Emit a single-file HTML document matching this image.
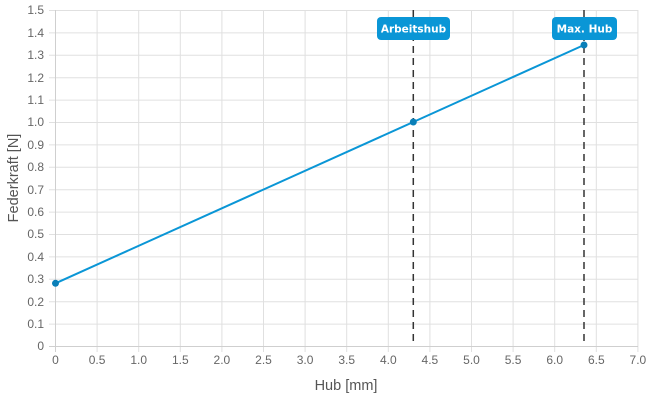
<!DOCTYPE html>
<html><head><style>body{margin:0;background:#fff}svg{display:block}</style></head><body>
<svg width="650" height="400" xmlns="http://www.w3.org/2000/svg" font-family="Liberation Sans, sans-serif">
<g stroke="#e0e0e0" stroke-width="1">
<line x1="49" y1="346.5" x2="638" y2="346.5"/>
<line x1="49" y1="324.1" x2="638" y2="324.1"/>
<line x1="49" y1="301.7" x2="638" y2="301.7"/>
<line x1="49" y1="279.3" x2="638" y2="279.3"/>
<line x1="49" y1="256.9" x2="638" y2="256.9"/>
<line x1="49" y1="234.5" x2="638" y2="234.5"/>
<line x1="49" y1="212.1" x2="638" y2="212.1"/>
<line x1="49" y1="189.7" x2="638" y2="189.7"/>
<line x1="49" y1="167.3" x2="638" y2="167.3"/>
<line x1="49" y1="144.9" x2="638" y2="144.9"/>
<line x1="49" y1="122.5" x2="638" y2="122.5"/>
<line x1="49" y1="100.1" x2="638" y2="100.1"/>
<line x1="49" y1="77.7" x2="638" y2="77.7"/>
<line x1="49" y1="55.3" x2="638" y2="55.3"/>
<line x1="49" y1="32.9" x2="638" y2="32.9"/>
<line x1="49" y1="10.5" x2="638" y2="10.5"/>
<line x1="55.5" y1="10" x2="55.5" y2="352"/>
<line x1="97.1" y1="10" x2="97.1" y2="352"/>
<line x1="138.7" y1="10" x2="138.7" y2="352"/>
<line x1="180.3" y1="10" x2="180.3" y2="352"/>
<line x1="221.9" y1="10" x2="221.9" y2="352"/>
<line x1="263.5" y1="10" x2="263.5" y2="352"/>
<line x1="305.1" y1="10" x2="305.1" y2="352"/>
<line x1="346.7" y1="10" x2="346.7" y2="352"/>
<line x1="388.3" y1="10" x2="388.3" y2="352"/>
<line x1="429.9" y1="10" x2="429.9" y2="352"/>
<line x1="471.5" y1="10" x2="471.5" y2="352"/>
<line x1="513.1" y1="10" x2="513.1" y2="352"/>
<line x1="554.7" y1="10" x2="554.7" y2="352"/>
<line x1="596.3" y1="10" x2="596.3" y2="352"/>
<line x1="637.9" y1="10" x2="637.9" y2="352"/>
</g>
<line x1="49" y1="346.5" x2="638" y2="346.5" stroke="#cfcfcf"/>
<line x1="55.5" y1="10" x2="55.5" y2="352" stroke="#cfcfcf"/>
<g font-size="12" fill="#666" text-anchor="end">
<text x="44" y="350">0</text><text x="44" y="328">0.1</text><text x="44" y="306">0.2</text><text x="44" y="283">0.3</text><text x="44" y="261">0.4</text><text x="44" y="238">0.5</text><text x="44" y="216">0.6</text><text x="44" y="194">0.7</text><text x="44" y="171">0.8</text><text x="44" y="149">0.9</text><text x="44" y="126">1.0</text><text x="44" y="104">1.1</text><text x="44" y="82">1.2</text><text x="44" y="59">1.3</text><text x="44" y="37">1.4</text><text x="44" y="14">1.5</text>
</g>
<g font-size="12" fill="#666" text-anchor="middle">
<text x="55.5" y="364">0</text><text x="97.1" y="364">0.5</text><text x="138.7" y="364">1.0</text><text x="180.3" y="364">1.5</text><text x="221.9" y="364">2.0</text><text x="263.5" y="364">2.5</text><text x="305.1" y="364">3.0</text><text x="346.7" y="364">3.5</text><text x="388.3" y="364">4.0</text><text x="429.9" y="364">4.5</text><text x="471.5" y="364">5.0</text><text x="513.1" y="364">5.5</text><text x="554.7" y="364">6.0</text><text x="596.3" y="364">6.5</text><text x="637.9" y="364">7.0</text>
</g>
<text x="346" y="390" font-size="14.5" fill="#555" text-anchor="middle">Hub [mm]</text>
<text transform="translate(18,178) rotate(-90)" font-size="14.5" fill="#555" text-anchor="middle">Federkraft [N]</text>
<g stroke="#333" stroke-width="1.5" stroke-dasharray="7,5">
<line x1="413.3" y1="10" x2="413.3" y2="346"/>
<line x1="584" y1="10" x2="584" y2="346"/>
</g>
<polyline points="55.5,283.3 413.3,122 584,45" fill="none" stroke="#0a96d6" stroke-width="2"/>
<g fill="#0a7fb8"><circle cx="55.5" cy="283.3" r="3.5"/><circle cx="413.3" cy="122" r="3.5"/><circle cx="584" cy="45" r="3.5"/></g>
<rect x="377" y="17" width="73" height="23" rx="4" fill="#0a96d6"/>
<text x="413.5" y="32.5" font-size="10.5" font-weight="bold" fill="#fff" text-anchor="middle" font-family="DejaVu Sans, sans-serif">Arbeitshub</text>
<rect x="552" y="17" width="65" height="23" rx="4" fill="#0a96d6"/>
<text x="584.5" y="32.5" font-size="10.5" font-weight="bold" fill="#fff" text-anchor="middle" font-family="DejaVu Sans, sans-serif">Max. Hub</text>
</svg>
</body></html>
